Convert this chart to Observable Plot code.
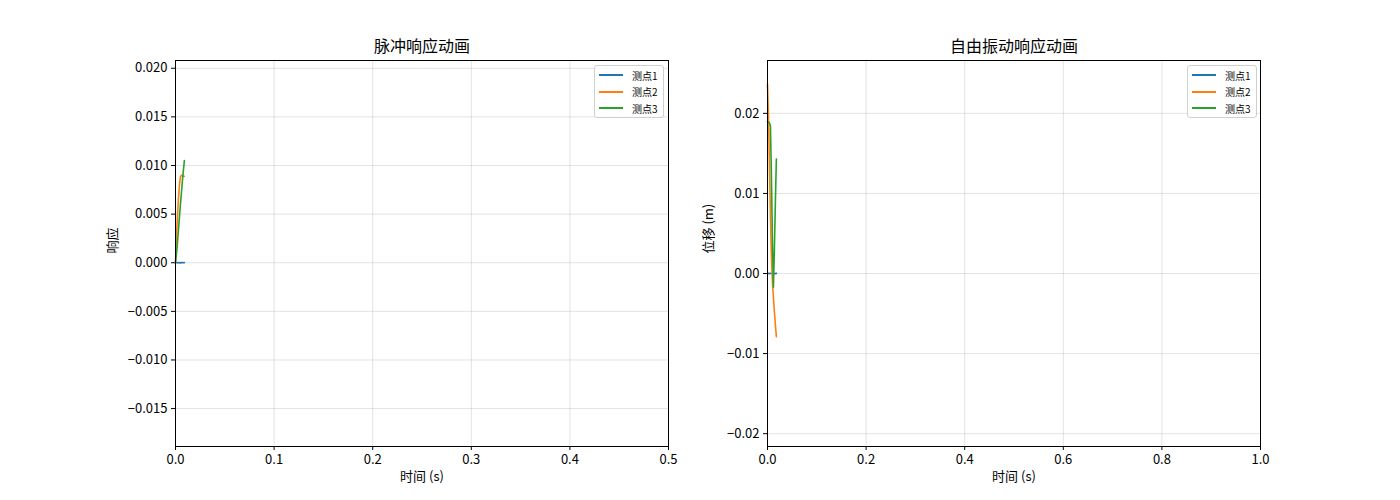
<!DOCTYPE html>
<html>
<head>
<meta charset="utf-8">
<script src="https://cdn.jsdelivr.net/npm/d3@7"></script>
<script src="https://cdn.jsdelivr.net/npm/@observablehq/plot@0.6"></script>
<style>
  html, body { margin: 0; padding: 0; background: #fff; }
  #fig { position: relative; width: 1400px; height: 500px; font-family: "Noto Sans CJK SC", "DejaVu Sans", sans-serif; }
  .panel { position: absolute; top: 0; }
  .legend { position: absolute; border: 1px solid #d0d0d0; border-radius: 3px; background: rgba(255,255,255,0.8); font-size: 10px; padding: 1px 5px 2px 4px; box-sizing: border-box; }
  .legend .row { display: flex; align-items: center; height: 16.5px; }
  .legend .sw { width: 24px; height: 0; border-top: 2px solid; margin-right: 9px; }
</style>
</head>
<body>
<div id="fig"></div>
<script>
// ---- data ----
const seriesNames = ["测点1", "测点2", "测点3"];
const seriesColors = ["#1f77b4", "#ff7f0e", "#2ca02c"];

const impulseTime = [0, 0.001, 0.002, 0.003, 0.004, 0.005, 0.006, 0.007, 0.008, 0.009];
const impulseP1 = [0, 0.00002, -0.00001, 0.00003, 0.00001, -0.00002, 0.00001, 0.00002, 0.0, 0.00001];
const impulseP2 = [0, 0.0028, 0.0048, 0.0066, 0.0080, 0.0088, 0.0090, 0.0090, 0.0089, 0.0089];
const impulseP3 = [0, 0.0009, 0.0021, 0.0034, 0.0047, 0.0060, 0.0072, 0.0084, 0.0095, 0.0105];

const freeTime = [0, 0.002, 0.004, 0.006, 0.008, 0.010, 0.012, 0.014, 0.016, 0.018];
const freeP1 = [0, 0.00003, -0.00002, 0.00002, 0.00001, -0.00003, 0.00002, 0.00001, -0.00001, 0.00002];
const freeP2 = [0.0237, 0.0195, 0.0135, 0.0070, 0.0020, -0.0010, -0.0030, -0.0048, -0.0064, -0.0079];
const freeP3 = [0.0190, 0.0189, 0.0188, 0.0184, 0.0120, 0.0040, -0.0017, 0.0030, 0.0090, 0.0143];

const impulseYTicks = [-0.015, -0.010, -0.005, 0.000, 0.005, 0.010, 0.015, 0.020];
const impulseXTicks = [0.0, 0.1, 0.2, 0.3, 0.4, 0.5];
const freeYTicks = [-0.02, -0.01, 0.00, 0.01, 0.02];
const freeXTicks = [0.0, 0.2, 0.4, 0.6, 0.8, 1.0];

function rows(time, arrays) {
  const out = [];
  arrays.forEach((arr, i) => arr.forEach((v, j) => out.push({t: time[j], v, s: seriesNames[i]})));
  return out;
}

const fmtMinus = f => d => d3.format(f)(d).replace("-", "\u2212");

function panel({data, xDomain, yDomain, xTicks, yTicks, xFmt, yFmt, title, xLabel, yLabel, yLabelOffset, ml, mr, width}) {
  return Plot.plot({
    width, height: 500,
    marginLeft: ml, marginRight: mr, marginTop: 60, marginBottom: 54,
    style: {fontFamily: "'Noto Sans CJK SC', 'DejaVu Sans', sans-serif", fontSize: "13px", color: "#000", background: "transparent", overflow: "visible"},
    x: {domain: xDomain, ticks: xTicks, tickFormat: fmtMinus(xFmt), label: null, tickSize: 4, tickPadding: 4},
    y: {domain: yDomain, ticks: yTicks, tickFormat: fmtMinus(yFmt), label: null, tickSize: 4, tickPadding: 4},
    color: {domain: seriesNames, range: seriesColors},
    marks: [
      Plot.gridX(xTicks, {stroke: "#b0b0b0", strokeOpacity: 0.35}),
      Plot.gridY(yTicks, {stroke: "#b0b0b0", strokeOpacity: 0.35}),
      Plot.line(data, {x: "t", y: "v", z: "s", stroke: "s", strokeWidth: 1.6}),
      Plot.frame({stroke: "#000", strokeWidth: 1}),
      Plot.text([title], {frameAnchor: "top", dy: -20, fontSize: 16, fill: "#000"}),
      Plot.text([xLabel], {frameAnchor: "bottom", dy: 34, fontSize: 13, fill: "#000"}),
      Plot.text([yLabel], {frameAnchor: "left", dx: -yLabelOffset, rotate: -90, fontSize: 13, fill: "#000"})
    ]
  });
}

const fig = document.getElementById("fig");

const left = panel({
  data: rows(impulseTime, [impulseP1, impulseP2, impulseP3]),
  xDomain: [0, 0.5], yDomain: [-0.0189, 0.0208],
  xTicks: impulseXTicks, yTicks: impulseYTicks, xFmt: ".1f", yFmt: ".3f",
  title: "脉冲响应动画", xLabel: "时间 (s)", yLabel: "响应", yLabelOffset: 63,
  ml: 175, mr: 32, width: 700
});
left.classList.add("panel");
left.style.left = "0px";
fig.appendChild(left);

const right = panel({
  data: rows(freeTime, [freeP1, freeP2, freeP3]),
  xDomain: [0, 1.0], yDomain: [-0.0216, 0.0266],
  xTicks: freeXTicks, yTicks: freeYTicks, xFmt: ".1f", yFmt: ".2f",
  title: "自由振动响应动画", xLabel: "时间 (s)", yLabel: "位移 (m)", yLabelOffset: 59,
  ml: 97, mr: 140, width: 730
});
right.classList.add("panel");
right.style.left = "670px";
fig.appendChild(right);

function legend(x, y) {
  const div = document.createElement("div");
  div.className = "legend";
  div.style.left = x + "px"; div.style.top = y + "px";
  div.style.width = "70px"; div.style.height = "53px";
  seriesNames.forEach((n, i) => {
    const r = document.createElement("div"); r.className = "row";
    const sw = document.createElement("div"); sw.className = "sw"; sw.style.borderTopColor = seriesColors[i];
    const tx = document.createElement("span"); tx.textContent = n;
    r.appendChild(sw); r.appendChild(tx); div.appendChild(r);
  });
  fig.appendChild(div);
}
legend(594, 65);
legend(1187, 65);
</script>
</body>
</html>
